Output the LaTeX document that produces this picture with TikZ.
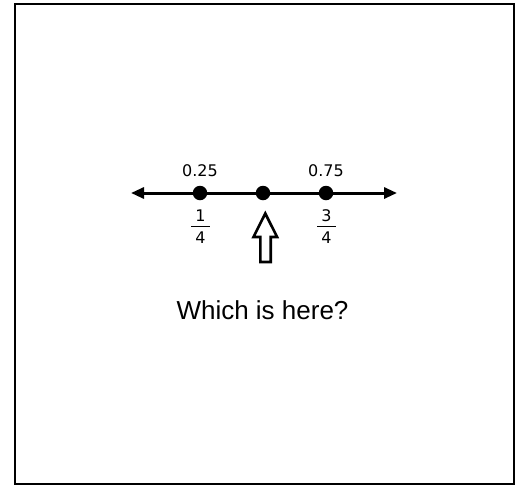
\documentclass[tikz,border=0pt]{standalone}
\usepackage{fontspec}
\setmainfont{Liberation Sans}
\newfontfamily\numfont{DejaVu Sans}
\usetikzlibrary{arrows.meta}
\begin{document}
\begin{tikzpicture}[x=1pt,y=-1pt,
  dot/.style={circle,fill=black,inner sep=0pt,minimum size=14.5pt},
  numlabel/.style={font=\numfont\fontsize{16}{18}\selectfont,inner sep=0pt,anchor=base},
  fraclabel/.style={font=\numfont\fontsize{16}{18}\selectfont,inner sep=0pt,anchor=base},
  axis/.style={line width=3pt,{Triangle[length=13pt,width=11pt]}-{Triangle[length=13pt,width=11pt]}},
  bar/.style={line width=1.3pt},
  hollowarrow/.style={draw=black,line width=2.6pt,line join=miter,fill=white}]
\useasboundingbox (0,0) rectangle (519,485);
\draw[line width=2.2pt] (15,4.2) rectangle (514.3,483.7);
% number line
\coordinate (L) at (131,193);
\coordinate (R) at (397,193);
\draw[axis] (L) -- (R);
\node[dot] (a) at (200,193) {};
\node[dot] (b) at (263,193) {};
\node[dot] (c) at (326,193) {};
% decimal labels
\node[numlabel] (la) at (200,176) {0.25};
\node[numlabel] (lc) at (326,176) {0.75};
% fractions
\node[fraclabel] (na) at (200.5,221) {1};
\node[fraclabel] (da) at (200.5,243) {4};
\draw[bar] (191,226.5) -- (210,226.5);
\node[fraclabel] (nc) at (326.5,221) {3};
\node[fraclabel] (dc) at (326.5,243) {4};
\draw[bar] (317,226.5) -- (336,226.5);
% hollow arrow
\draw[hollowarrow] (265.3,213.5) -- (253.5,237) -- (260.3,237) -- (260.3,262) -- (270.7,262) -- (270.7,237) -- (277.1,237) -- cycle;
% question
\node[font=\fontsize{26}{30}\selectfont,inner sep=0pt,anchor=base] (q) at (262.5,319.5) {Which is here?};
\end{tikzpicture}
\end{document}
